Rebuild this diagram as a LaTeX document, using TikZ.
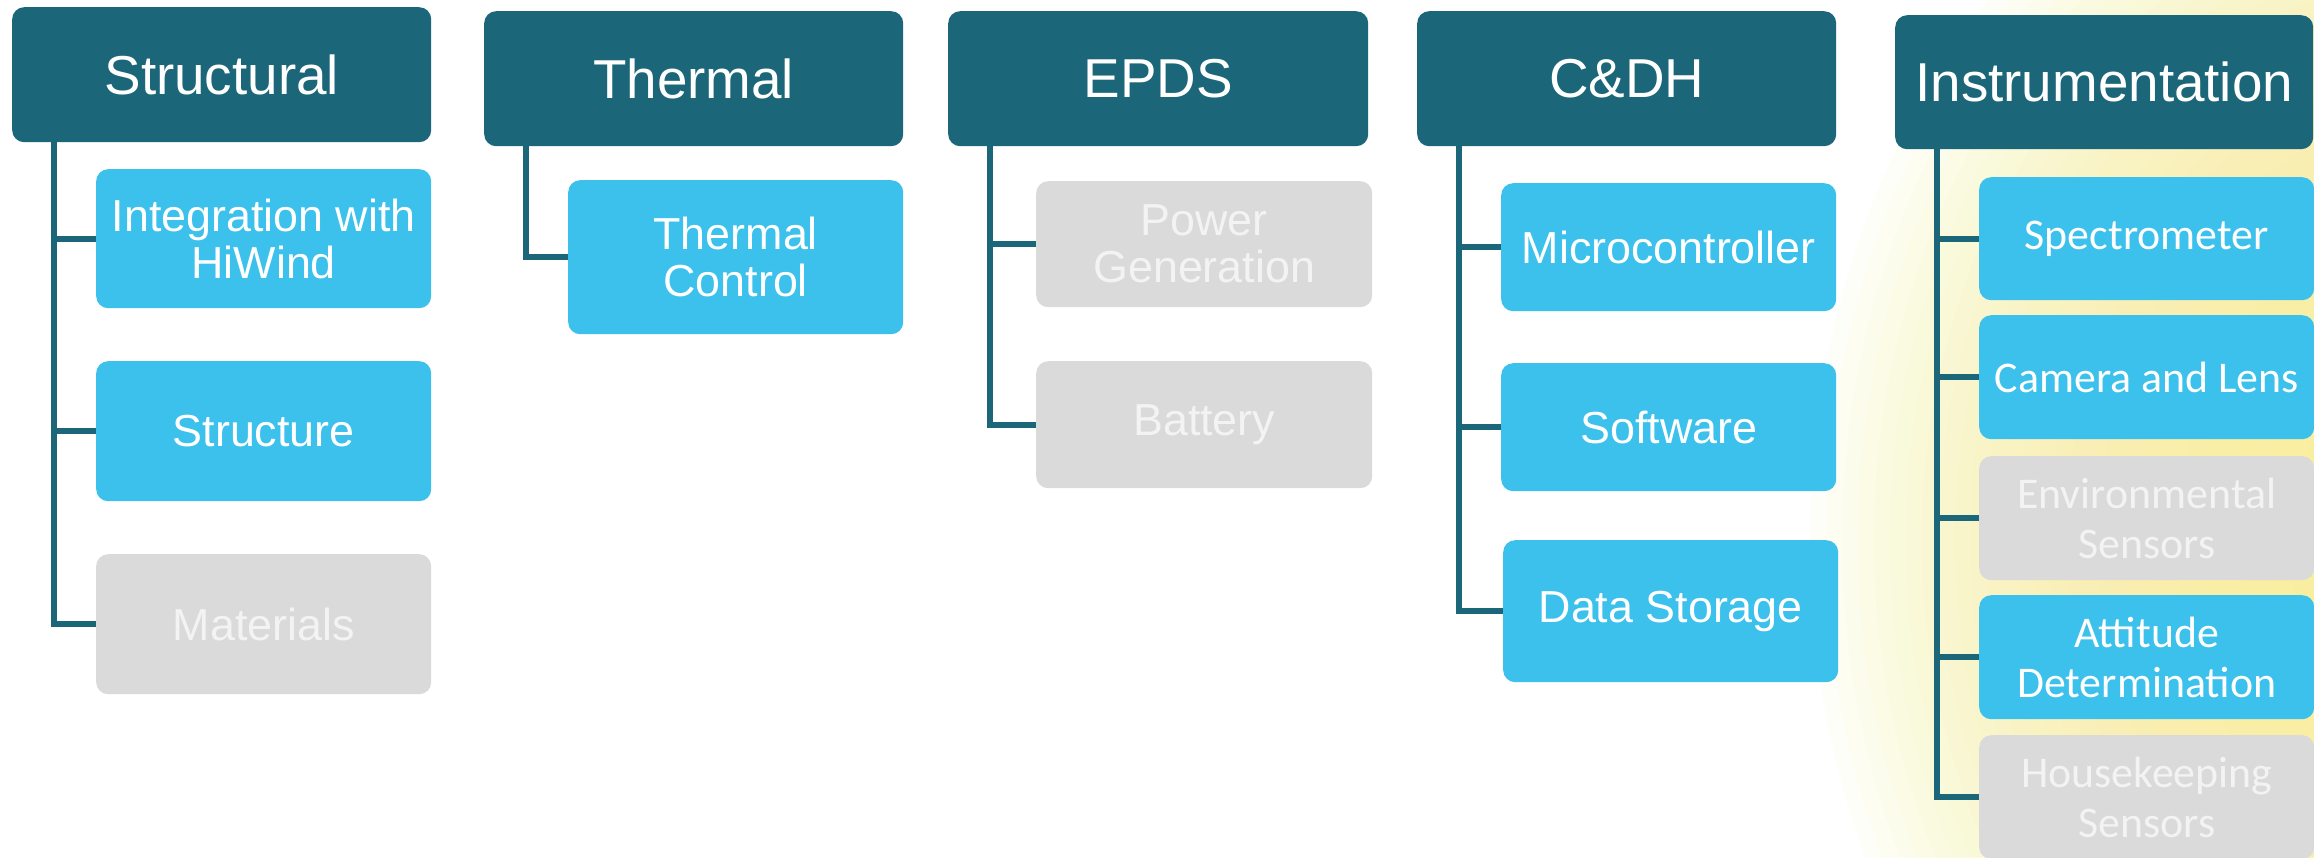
\documentclass[tikz,border=0pt]{standalone}
\usepackage{fontspec}
\setmainfont{Liberation Sans}
\newfontfamily\calib{Carlito}

\definecolor{tealhead}{RGB}{28,102,121}
\definecolor{sky}{RGB}{59,193,236}
\definecolor{pale}{RGB}{218,218,218}
\definecolor{paletext}{RGB}{243,243,243}
\definecolor{glow}{RGB}{249,238,150}

\tikzset{
  x=1bp, y=-1bp,
  box/.style={rectangle, rounded corners=12bp, inner sep=0pt, anchor=north west,
              align=center, text=white},
  head/.style={box, fill=tealhead, minimum width=419bp, minimum height=135bp,
               font=\fontsize{55}{60}\selectfont},
  task/.style={box, fill=sky, font=\fontsize{45}{47}\selectfont},
  idle/.style={box, fill=pale, text=paletext, font=\fontsize{45}{47}\selectfont},
  ctask/.style={task, font=\calib\fontsize{44}{50}\selectfont},
  cidle/.style={idle, font=\calib\fontsize{44}{50}\selectfont},
  conn/.style={draw=tealhead, line width=6bp},
  halo/.style={fill=glow, opacity=0.06},
}

\begin{document}
\begin{tikzpicture}
\useasboundingbox (0,0) rectangle (2314,857);
\fill[white] (0,0) rectangle (2314,857);

% soft yellow glow behind the right-hand column, built from stacked translucent ellipses
\begin{scope}
  \clip (0,0) rectangle (2314,857);
  \foreach \k in {0,...,39} {
    \pgfmathsetmacro\s{1-\k/40}
    \path[halo] (2450,540) ellipse [x radius=\s*640bp, y radius=\s*780bp];
  }
\end{scope}

% ---- Structural ----
\node[head] (st) at (12,7) {Structural};
\node[task, minimum width=335bp, minimum height=139bp] (st1) at (96,169) {Integration with\\HiWind};
\node[task, minimum width=335bp, minimum height=140bp] (st2) at (96,361) {Structure};
\node[idle, minimum width=335bp, minimum height=140bp] (st3) at (96,554) {Materials};

% ---- Thermal ----
\node[head] (th) at (484,11) {Thermal};
\node[task, minimum width=335bp, minimum height=154bp] (th1) at (568,180) {Thermal\\Control};

% ---- EPDS ----
\node[head, minimum width=420bp] (ep) at (948,11) {EPDS};
\node[idle, minimum width=336bp, minimum height=126bp] (ep1) at (1036,181) {Power\\Generation};
\node[idle, minimum width=336bp, minimum height=127bp] (ep2) at (1036,361) {Battery};

% ---- C&DH ----
\node[head] (cd) at (1417,11) {C\&DH};
\node[task, minimum width=335bp, minimum height=128bp] (cd1) at (1501,183) {Microcontroller};
\node[task, minimum width=335bp, minimum height=128bp] (cd2) at (1501,363) {Software};
\node[task, minimum width=335bp, minimum height=142bp] (cd3) at (1503,540) {Data Storage};

% ---- Instrumentation ----
\node[head, minimum width=418bp, minimum height=134bp] (in) at (1895,15) {Instrumentation};
\node[ctask, minimum width=335bp, minimum height=123bp] (in1) at (1979,177) {Spectrometer};
\node[ctask, minimum width=335bp, minimum height=124bp] (in2) at (1979,315) {Camera and Lens};
\node[cidle, minimum width=335bp, minimum height=124bp] (in3) at (1979,456) {Environmental\\Sensors};
\node[ctask, minimum width=335bp, minimum height=124bp] (in4) at (1979,595) {Attitude\\Determination};
\node[cidle, minimum width=335bp, minimum height=124bp] (in5) at (1979,735) {Housekeeping\\Sensors};

% ---- connectors: trunk from each header, branch into each child ----
\foreach \h/\c in {st/st1, st/st2, st/st3, th/th1, ep/ep1, ep/ep2,
                   cd/cd1, cd/cd2, cd/cd3, in/in1, in/in2, in/in3, in/in4, in/in5}
  \draw[conn] ([xshift=42bp]\h.south west) |- (\c.west);
\end{tikzpicture}
\end{document}
